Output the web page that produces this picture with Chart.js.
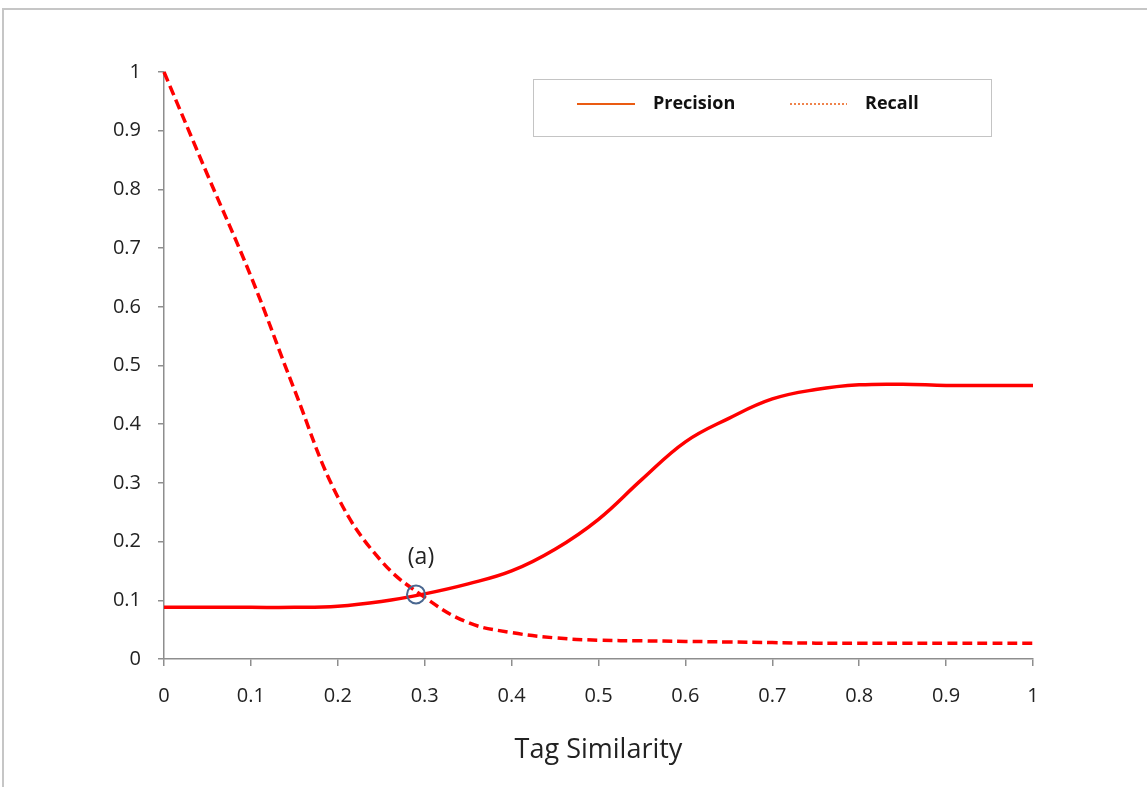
<!DOCTYPE html>
<html>
<head>
<meta charset="utf-8">
<script src="https://cdn.jsdelivr.net/npm/chart.js@4/dist/chart.umd.min.js"></script>
<style>
  body { margin: 0; background: #fff; }
  #wrap { width: 1147px; height: 787px; }
</style>
</head>
<body>
<div id="wrap"><canvas id="pr" width="1147" height="787"></canvas></div>
<script>
// tag similarity threshold
var similarity = [0, 0.05, 0.1, 0.15, 0.2, 0.25, 0.3, 0.35, 0.4, 0.45, 0.5,
                  0.55, 0.6, 0.65, 0.7, 0.75, 0.8, 0.85, 0.9, 0.95, 1];
var precision = [0.088, 0.088, 0.088, 0.088, 0.090, 0.098, 0.111, 0.128, 0.150, 0.187, 0.238,
                 0.306, 0.370, 0.410, 0.443, 0.459, 0.467, 0.468, 0.466, 0.466, 0.466];
var recall = [1.0, 0.825, 0.652, 0.459, 0.276, 0.167, 0.105, 0.062, 0.045, 0.036, 0.032,
              0.031, 0.030, 0.029, 0.028, 0.027, 0.027, 0.027, 0.027, 0.027, 0.027];
var xTicks = ['0', '0.1', '0.2', '0.3', '0.4', '0.5', '0.6', '0.7', '0.8', '0.9', '1'];
var yTicks = ['0', '0.1', '0.2', '0.3', '0.4', '0.5', '0.6', '0.7', '0.8', '0.9', '1'];
var marked = { label: '(a)', x: 0.29, y: 0.11 };

var FONT = '"Open Sans", "Liberation Sans", sans-serif';

function points(ys) {
  return similarity.map(function(x, i){ return { x: x, y: ys[i] }; });
}

// outer frame, legend box and the (a) marker
var decor = {
  id: 'decor',
  beforeDraw: function(chart){
    var c = chart.ctx;
    c.save();
    c.fillStyle = '#fff';
    c.fillRect(0, 0, chart.width, chart.height);
    c.strokeStyle = '#c6c6c6';
    c.lineWidth = 2;
    c.beginPath();
    c.moveTo(3, 800); c.lineTo(3, 9); c.lineTo(1160, 9);
    c.stroke();
    c.restore();
  },
  afterDraw: function(chart){
    var c = chart.ctx;
    c.save();
    // legend
    c.strokeStyle = '#c4c4c4';
    c.lineWidth = 1;
    c.strokeRect(533.5, 79.5, 458, 57);
    c.strokeStyle = '#ea5b12';
    c.lineWidth = 2;
    c.beginPath(); c.moveTo(577, 104); c.lineTo(635, 104); c.stroke();
    c.setLineDash([2, 2]);
    c.lineWidth = 1.5;
    c.beginPath(); c.moveTo(790, 104); c.lineTo(847, 104); c.stroke();
    c.setLineDash([]);
    c.fillStyle = '#111';
    c.font = 'bold 18px ' + FONT;
    c.textBaseline = 'middle';
    c.textAlign = 'left';
    c.fillText(chart.data.datasets[0].label, 653, 104);
    c.fillText(chart.data.datasets[1].label, 865, 104);
    // marker
    var px = chart.scales.x.getPixelForValue(marked.x);
    var py = chart.scales.y.getPixelForValue(marked.y);
    c.strokeStyle = '#4a6790';
    c.lineWidth = 2;
    c.beginPath(); c.arc(px, py, 9, 0, Math.PI * 2); c.stroke();
    c.fillStyle = '#222';
    c.font = '23px ' + FONT;
    c.textAlign = 'center';
    c.fillText(marked.label, px + 5, py - 37);
    c.restore();
  }
};

var ctx = document.getElementById('pr').getContext('2d');
var chart = new Chart(ctx, {
  type: 'line',
  data: {
    datasets: [{
      label: 'Precision',
      data: points(precision),
      borderColor: '#ff0000',
      borderWidth: 3.5,
      pointRadius: 0,
      tension: 0.4,
      clip: 6
    }, {
      label: 'Recall',
      data: points(recall),
      borderColor: '#ff0000',
      borderWidth: 3.5,
      borderDash: [10, 5],
      pointRadius: 0,
      tension: 0.4,
      clip: 6
    }]
  },
  options: {
    responsive: false,
    animation: false,
    layout: { padding: { left: 0, top: 72, right: 114, bottom: 20 } },
    plugins: {
      legend: { display: false },
      tooltip: { enabled: false }
    },
    scales: {
      x: {
        type: 'linear',
        min: 0, max: 1,
        afterFit: function(s){ s.height = 108; },
        border: { color: '#8e8e8e', width: 1.5 },
        grid: { drawOnChartArea: false, drawTicks: true, tickLength: 7, color: '#8e8e8e', lineWidth: 1.5 },
        ticks: {
          stepSize: 0.1,
          padding: 18,
          color: '#222',
          font: { family: FONT, size: 20 },
          callback: function(v, i){ return xTicks[i]; }
        },
        title: {
          display: true,
          text: 'Tag Similarity',
          color: '#222',
          padding: { top: 0, bottom: 0 },
          font: { family: FONT, size: 27 }
        }
      },
      y: {
        min: 0, max: 1,
        afterFit: function(s){ s.width = 164; },
        border: { color: '#8e8e8e', width: 1.5 },
        grid: { drawOnChartArea: false, drawTicks: true, tickLength: 6, color: '#8e8e8e', lineWidth: 1.5 },
        ticks: {
          stepSize: 0.1,
          padding: 17,
          color: '#222',
          font: { family: FONT, size: 20 },
          callback: function(v, i){ return yTicks[i]; }
        }
      }
    }
  },
  plugins: [decor]
});
</script>
</body>
</html>
